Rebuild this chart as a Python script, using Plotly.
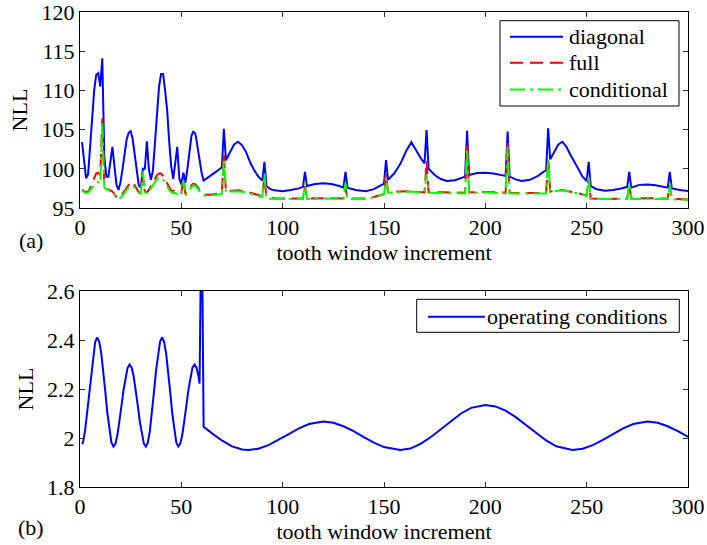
import plotly.graph_objects as go

# ---------------- data ----------------
diag_x = [1, 2, 3, 4, 5, 6, 7, 8, 9, 10, 11, 12, 13, 14, 15, 16, 17, 18, 19, 20,
          21, 22, 23, 24, 25, 26, 27, 28, 29, 30, 31, 32, 33, 34, 35, 36, 37, 38, 39, 40,
          41, 42, 43, 44, 45, 46, 47, 48, 49, 50, 51, 52, 53, 54, 55, 56, 57, 58, 59, 60,
          61, 64, 67, 70, 71, 72, 74, 76, 78, 80, 82, 84, 86, 88, 90, 91, 92, 94, 96, 100,
          104, 108, 110, 111, 112, 116, 120, 124, 128, 130, 131, 132, 136, 141, 145, 148, 150, 151, 152, 155,
          158, 161, 163.5, 166, 168, 170, 171, 172, 175, 178, 181, 185, 188, 190, 191, 192, 196, 200, 204, 208,
          210, 211, 212, 215, 218, 222, 226, 230, 231, 232, 234, 236, 238, 240, 242, 244, 246, 248, 250, 251,
          252, 255, 259, 263, 267, 270, 271, 272, 276, 280, 284, 288, 290, 291, 292, 296, 300]
diag_y = [103.4, 101.0, 98.8, 99.3, 102.5, 106.5, 110.0, 112.0, 112.2, 110.5, 114.1, 101.5, 99.0, 99.0, 100.8, 102.8, 100.3, 98.0, 97.3, 98.3,
          100.0, 102.0, 103.7, 104.6, 104.8, 103.8, 101.8, 99.4, 97.9, 97.6, 100.0, 100.0, 103.5, 99.9, 98.6, 99.8, 103.0, 107.0, 110.5, 112.1,
          112.1, 110.0, 107.5, 103.5, 100.3, 98.7, 100.5, 102.8, 98.8, 98.0, 99.5, 98.2, 100.0, 102.4, 104.2, 104.8, 104.4, 102.8, 101.0, 99.5,
          98.5, 99.0, 99.6, 100.2, 105.1, 101.1, 102.2, 103.1, 103.45, 103.0, 102.1, 100.8, 99.8, 99.0, 98.5, 100.9, 97.8, 97.4, 97.25, 97.15,
          97.3, 97.5, 97.7, 99.6, 97.8, 98.05, 98.15, 98.05, 97.8, 97.6, 99.6, 97.6, 97.3, 97.15, 97.4, 97.8, 98.1, 101.1, 98.6, 99.4,
          100.6, 102.3, 103.4, 102.3, 101.4, 100.7, 104.95, 100.0, 99.2, 98.7, 98.45, 98.55, 98.8, 99.0, 104.85, 99.2, 99.45, 99.5, 99.4, 99.2,
          99.1, 104.75, 99.0, 98.65, 98.45, 98.6, 99.1, 99.85, 105.15, 101.2, 102.2, 103.1, 103.45, 102.8, 101.8, 100.8, 99.8, 99.0, 98.45, 100.9,
          97.8, 97.4, 97.2, 97.3, 97.5, 97.7, 99.6, 97.6, 97.95, 98.0, 97.9, 97.7, 97.6, 99.6, 97.5, 97.3, 97.17]

full_x = [1, 2, 3, 4, 5, 6, 7, 8, 9, 10, 11, 12, 13, 14, 15, 16, 17, 18, 19, 20,
          21, 22, 23, 24, 25, 26, 27, 28, 29, 30, 31, 32, 33, 34, 35, 36, 37, 38, 39, 40,
          41, 42, 43, 44, 45, 46, 47, 48, 49, 50, 51, 52, 53, 54, 55, 56, 57, 58, 59, 60,
          61, 64, 67, 70, 71, 72, 75, 78, 82, 86, 90, 91, 92, 96, 100, 105, 110, 111, 112, 120,
          130, 131, 132, 140, 145, 150, 151, 152, 157, 163, 168, 170, 171, 172, 180, 190, 191, 192, 200, 210,
          211, 212, 220, 230, 231, 232, 238, 244, 250, 251, 252, 260, 270, 271, 272, 280, 290, 291, 292, 300]
full_y = [97.3, 97.1, 97.0, 97.1, 97.5, 98.2, 98.9, 99.4, 99.5, 99.2, 106.4, 97.8, 97.5, 97.4, 97.3, 97.1, 96.8, 96.4, 96.25, 96.4,
          96.8, 97.2, 97.5, 97.9, 98.3, 98.3, 97.9, 97.4, 97.0, 96.8, 98.9, 97.1, 97.0, 97.3, 97.8, 98.3, 98.8, 99.2, 99.4, 99.4,
          99.1, 98.6, 98.0, 97.5, 97.2, 97.2, 97.2, 97.1, 97.0, 96.9, 98.8, 96.8, 97.2, 97.6, 97.9, 98.1, 98.0, 97.7, 97.3, 96.9,
          96.7, 96.7, 96.8, 96.9, 102.0, 97.1, 97.2, 97.25, 97.1, 96.8, 96.5, 99.0, 96.3, 96.25, 96.2, 96.2, 96.2, 97.8, 96.2, 96.25,
          96.2, 97.6, 96.2, 96.2, 96.4, 96.8, 99.4, 97.0, 97.1, 97.15, 97.0, 97.0, 101.0, 97.0, 97.0, 96.95, 103.3, 97.0, 97.05, 96.95,
          103.3, 96.9, 96.9, 96.9, 101.5, 97.1, 97.3, 97.0, 96.6, 98.8, 96.2, 96.15, 96.2, 98.0, 96.2, 96.25, 96.2, 98.0, 96.15, 96.1]

cond_x = [1, 2, 3, 4, 5, 6, 7, 8, 9, 10, 11, 12, 13, 14, 15, 16, 17, 18, 19, 20,
          21, 22, 23, 24, 25, 26, 27, 28, 29, 30, 31, 32, 33, 34, 35, 36, 37, 38, 39, 40,
          41, 42, 43, 44, 45, 46, 47, 48, 49, 50, 51, 52, 53, 54, 55, 56, 57, 58, 59, 60,
          61, 64, 67, 70, 71, 72, 75, 78, 82, 86, 90, 91, 92, 100, 110, 111, 112, 120, 130, 131,
          132, 140, 145, 150, 151, 152, 163, 170, 171, 172, 180, 190, 191, 192, 200, 210, 211, 212, 230, 231,
          232, 238, 244, 250, 251, 252, 270, 271, 272, 290, 291, 292, 300]
cond_y = [97.2, 97.0, 96.9, 97.0, 97.3, 97.7, 98.0, 98.2, 98.3, 98.1, 105.8, 97.6, 97.4, 97.3, 97.2, 97.0, 96.7, 96.3, 96.2, 96.3,
          96.6, 97.0, 97.3, 97.6, 97.9, 97.9, 97.6, 97.3, 97.0, 96.8, 99.8, 97.0, 96.9, 97.1, 97.5, 97.9, 98.3, 98.7, 98.9, 98.9,
          98.7, 98.3, 97.8, 97.3, 97.0, 96.9, 96.9, 96.8, 96.7, 96.6, 98.5, 96.6, 97.0, 97.4, 97.7, 97.9, 97.8, 97.5, 97.1, 96.8,
          96.6, 96.6, 96.7, 96.8, 101.3, 97.0, 97.1, 97.15, 97.0, 96.7, 96.4, 99.4, 96.2, 96.15, 96.15, 98.3, 96.15, 96.2, 96.15, 98.2,
          96.15, 96.15, 96.35, 96.75, 98.9, 96.95, 97.1, 96.95, 99.3, 96.95, 96.9, 96.85, 102.6, 96.9, 97.0, 96.85, 102.8, 96.85, 96.85, 101.2,
          97.05, 97.25, 96.95, 96.55, 99.2, 96.15, 96.15, 98.1, 96.15, 96.15, 98.2, 96.1, 96.05]

op_x = [1, 1.5, 2.5, 3.5, 4.5, 5.5, 6.5, 7.5, 8.5, 9.5, 10.5, 11.5, 12.5, 13.5, 14.5, 15.5, 16.5,
        17.5, 18.5, 19.5, 20.5, 21.5, 22.5, 23.5, 24.5, 25.5, 26.5, 27.5, 28.5, 29.5, 30.5, 31.5, 32.5,
        33.5, 34.5, 35.5, 36.5, 37.5, 38.5, 39.5, 40.5, 41.5, 42.5, 43.5, 44.5, 45.5, 46.5, 47.5, 48.5,
        49.5, 50.5, 51.5, 52.5, 53.5, 54.5, 55.5, 56.5, 57.5, 58.5, 59, 60, 61,
        65, 70, 75, 80, 83, 88, 93, 98, 103, 108, 113, 120, 125, 130, 135, 140, 145, 150, 158,
        163, 168, 173, 178, 183, 188, 193, 200, 205, 210, 215, 220, 225, 230, 235, 243,
        248, 253, 258, 263, 268, 273, 280, 285, 290, 295, 300]
op_y = [1.975, 1.982, 2.030, 2.102, 2.188, 2.273, 2.345, 2.393, 2.410, 2.393, 2.345, 2.273, 2.188, 2.102, 2.030, 1.982, 1.965,
        1.977, 2.014, 2.068, 2.133, 2.197, 2.251, 2.287, 2.300, 2.287, 2.251, 2.197, 2.133, 2.068, 2.014, 1.977, 1.965,
        1.982, 2.030, 2.102, 2.188, 2.273, 2.345, 2.393, 2.410, 2.393, 2.345, 2.273, 2.188, 2.102, 2.030, 1.982, 1.965,
        1.977, 2.014, 2.068, 2.133, 2.197, 2.251, 2.287, 2.300, 2.287, 2.251, 2.222, 3.0, 2.046,
        2.020, 1.990, 1.966, 1.953, 1.951, 1.956, 1.971, 1.992, 2.016, 2.039, 2.057, 2.067, 2.062, 2.048, 2.028, 2.004, 1.981, 1.963, 1.951,
        1.957, 1.976, 2.003, 2.036, 2.070, 2.100, 2.123, 2.135, 2.129, 2.112, 2.085, 2.053, 2.020, 1.990, 1.966, 1.951,
        1.956, 1.971, 1.992, 2.016, 2.039, 2.057, 2.067, 2.062, 2.048, 2.028, 2.005]

top_names = ["diagonal", "full", "conditional"]
bottom_name = "operating conditions"
x_ticks = [0, 50, 100, 150, 200, 250, 300]
top_y_ticks = [95, 100, 105, 110, 115, 120]
bottom_y_ticks = [1.8, 2.0, 2.2, 2.4, 2.6]

# ---------------- layout helpers (pixel -> paper) ----------------
W, H = 707, 545
L, R, T, B = 80, 19, 12, 58
PW, PH = W - L - R, H - T - B


def px(xp):
    return (xp - L) / PW


def py(yp):
    return 1 - (yp - T) / PH


FONT = "Liberation Serif"
FS = 22

blue, red, green = "#0000ff", "#ff0000", "#00ff00"
styles = [dict(color=blue, width=2),
          dict(color=red, width=2, dash="13px,7px"),
          dict(color=green, width=2, dash="15px,5px,3px,5px")]

fig = go.Figure()
for name, xs, ys, st in zip(top_names, [diag_x, full_x, cond_x], [diag_y, full_y, cond_y], styles):
    fig.add_trace(go.Scatter(x=xs, y=ys, mode="lines", name=name, line=st,
                             xaxis="x", yaxis="y", showlegend=False))
fig.add_trace(go.Scatter(x=op_x, y=op_y, mode="lines", name=bottom_name,
                         line=dict(color=blue, width=2), xaxis="x2", yaxis="y2", showlegend=False))

axis_common = dict(showline=True, linecolor="black", linewidth=1, mirror="ticks",
                   ticks="inside", ticklen=5, tickcolor="#333", showgrid=False,
                   zeroline=False, automargin=False, ticklabeloverflow="allow",
                   tickfont=dict(family=FONT, size=FS, color="black"))

top_dom = [py(208), py(12)]
bot_dom = [py(487), py(291)]

fig.update_layout(
    width=W, height=H, template="none",
    margin=dict(l=L, r=R, t=T, b=B, pad=0),
    paper_bgcolor="white", plot_bgcolor="white",
    font=dict(family=FONT, size=FS, color="black"),
    xaxis=dict(axis_common, domain=[0, 1], range=[0, 300], tickvals=x_ticks, anchor="y",
               title=dict(text="tooth window increment", standoff=1, font=dict(family=FONT, size=FS, color="black"))),
    yaxis=dict(axis_common, domain=top_dom, range=[95, 120], tickvals=top_y_ticks, anchor="x",
               title=dict(text="NLL", standoff=7, font=dict(family=FONT, size=FS, color="black"))),
    xaxis2=dict(axis_common, domain=[0, 1], range=[0, 300], tickvals=x_ticks, anchor="y2",
                title=dict(text="tooth window increment", standoff=1, font=dict(family=FONT, size=FS, color="black"))),
    yaxis2=dict(axis_common, domain=bot_dom, range=[1.8, 2.6], tickvals=bottom_y_ticks,
                ticktext=["1.8", "2", "2.2", "2.4", "2.6"], anchor="x2",
                title=dict(text="NLL", standoff=7, font=dict(family=FONT, size=FS, color="black"))),
    showlegend=False,
)

# panel labels
fig.add_annotation(text="(a)", x=px(31), y=py(240), xref="paper", yref="paper",
                   showarrow=False, font=dict(family=FONT, size=FS, color="black"), xanchor="center", yanchor="middle")
fig.add_annotation(text="(b)", x=px(31), y=py(527), xref="paper", yref="paper",
                   showarrow=False, font=dict(family=FONT, size=FS, color="black"), xanchor="center", yanchor="middle")

# legend boxes (drawn to match the reference legend geometry)
shapes = []
shapes.append(dict(type="rect", xref="paper", yref="paper", x0=px(500), x1=px(679), y0=py(106), y1=py(20.7),
                   line=dict(color="black", width=1), fillcolor="white", layer="above"))
for i, (name, st) in enumerate(zip(top_names, styles)):
    yy = [36.7, 62.7, 89.5][i]
    shapes.append(dict(type="line", xref="paper", yref="paper", x0=px(510), x1=px(563), y0=py(yy), y1=py(yy),
                       line=st, layer="above"))
    fig.add_annotation(text=name, x=px(567), y=py(yy), xref="paper", yref="paper", showarrow=False,
                       xanchor="left", yanchor="middle", font=dict(family=FONT, size=FS, color="black"))
shapes.append(dict(type="rect", xref="paper", yref="paper", x0=px(416.7), x1=px(679.3), y0=py(332.3), y1=py(299.3),
                   line=dict(color="black", width=1), fillcolor="white", layer="above"))
shapes.append(dict(type="line", xref="paper", yref="paper", x0=px(428), x1=px(485), y0=py(316.7), y1=py(316.7),
                   line=dict(color=blue, width=2), layer="above"))
fig.add_annotation(text=bottom_name, x=px(485), y=py(316.7), xref="paper", yref="paper", showarrow=False,
                   xanchor="left", yanchor="middle", font=dict(family=FONT, size=FS, color="black"))
fig.update_layout(shapes=shapes)

fig.write_html("out.html")
